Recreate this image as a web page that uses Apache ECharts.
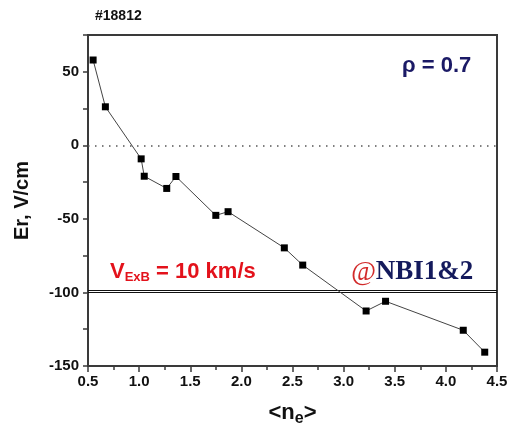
<!DOCTYPE html>
<html>
<head>
<meta charset="utf-8">
<script src="https://cdn.jsdelivr.net/npm/echarts@6/dist/echarts.min.js"></script>
<style>
  html, body { margin: 0; padding: 0; background: #fff; }
  #chart { width: 515px; height: 428px; }
</style>
</head>
<body>
<div id="chart"></div>
<script>
// <ne> values and Er (V/cm)
const density = [0.55, 0.67, 1.02, 1.05, 1.27, 1.36, 1.75, 1.87, 2.42, 2.6, 3.22, 3.41, 4.17, 4.38];
const erField = [58, 26.2, -9.2, -21, -29.3, -21.2, -47.6, -45.1, -69.7, -81.4, -112.6, -106, -125.7, -140.6];

// reference lines
const zeroLine = [0];
const vexbLines = [-98.6, -100];

const shotLabel = "#18812";
const rhoLabel = "\u03c1 = 0.7";

const chart = echarts.init(document.getElementById("chart"), null, { renderer: "canvas" });

const tickFont = { fontFamily: "Liberation Sans, Arial", fontWeight: "bold", fontSize: 15, color: "#111" };
const frame = "#3a3a3a";

chart.setOption({
  backgroundColor: "#fff",
  animation: false,
  grid: {
    left: 88, right: 18, top: 35, bottom: 62,
    outerBoundsMode: "none",
    containLabel: false,
    show: true, borderColor: frame, borderWidth: 2, backgroundColor: "transparent",
  },
  xAxis: {
    type: "value",
    min: 0.5, max: 4.5, interval: 0.5,
    name: "{b|<n}{e|e}{b|>}",
    nameLocation: "middle",
    nameGap: 33,
    nameTextStyle: {
      rich: {
        b: { fontFamily: "Liberation Sans, Arial", fontWeight: "bold", fontSize: 22, color: "#111" },
        e: { fontFamily: "Liberation Sans, Arial", fontWeight: "bold", fontSize: 16, color: "#111", padding: [12, 0, 0, 0] },
      },
    },
    axisLine: { onZero: false, lineStyle: { color: frame, width: 2 } },
    axisTick: { inside: false, length: 6, lineStyle: { color: frame, width: 1.5 } },
    minorTick: { show: true, splitNumber: 2, length: 4, lineStyle: { color: frame, width: 1.5 } },
    axisLabel: { ...tickFont, margin: 8, formatter: (v) => v.toFixed(1) },
    splitLine: { show: false },
  },
  yAxis: {
    type: "value",
    min: -150, max: 75, interval: 25,
    name: "Er, V/cm",
    nameLocation: "middle",
    nameGap: 56,
    nameTextStyle: { fontFamily: "Liberation Sans, Arial", fontWeight: "bold", fontSize: 20, color: "#111" },
    axisLine: { show: true, onZero: false, lineStyle: { color: frame, width: 2 } },
    axisTick: { show: true, inside: false, length: 5, lineStyle: { color: frame, width: 1.5 } },
    axisLabel: {
      ...tickFont, margin: 9,
      formatter: (v) => (v % 50 === 0 && v !== 75 ? String(v) : ""),
    },
    splitLine: { show: false },
  },
  series: [
    {
      type: "line",
      data: density.map((d, i) => [d, erField[i]]),
      symbol: "rect",
      symbolSize: 7,
      lineStyle: { color: "#444", width: 1 },
      itemStyle: { color: "#000" },
      z: 5,
      markLine: {
        silent: true,
        symbol: "none",
        label: { show: false },
        data: [
          ...zeroLine.map((y) => ({ yAxis: y, lineStyle: { color: "#555", width: 1.5, type: [1.5, 5.5] } })),
          ...vexbLines.map((y) => ({ yAxis: y, lineStyle: { color: "#111", width: 1.2, type: "solid" } })),
        ],
      },
    },
  ],
  graphic: [
    {
      type: "text", left: 95, top: 9,
      style: { text: shotLabel, font: "bold 14px Liberation Sans, Arial", fill: "#111" },
    },
    {
      type: "text", left: 402, top: 55,
      style: { text: rhoLabel, font: "bold 22px Liberation Sans, Arial", fill: "#1b1a66" },
    },
    {
      type: "text", left: 110, top: 261,
      style: {
        text: "{v|V}{s|ExB}{v| = 10 km/s}",
        rich: {
          v: { font: "bold 22px Liberation Sans, Arial", fill: "#e3121b" },
          s: { font: "bold 13px Liberation Sans, Arial", fill: "#e3121b", padding: [11, 0, 0, 0] },
        },
      },
    },
    {
      type: "text", left: 351, top: 259,
      style: {
        text: "{a|@}{n|NBI1&2}",
        rich: {
          a: { font: "italic 27px Liberation Serif, Times New Roman", fill: "#d22a2a" },
          n: { font: "bold 27px Liberation Serif, Times New Roman", fill: "#141a5c" },
        },
      },
    },
  ],
});
</script>
</body>
</html>
